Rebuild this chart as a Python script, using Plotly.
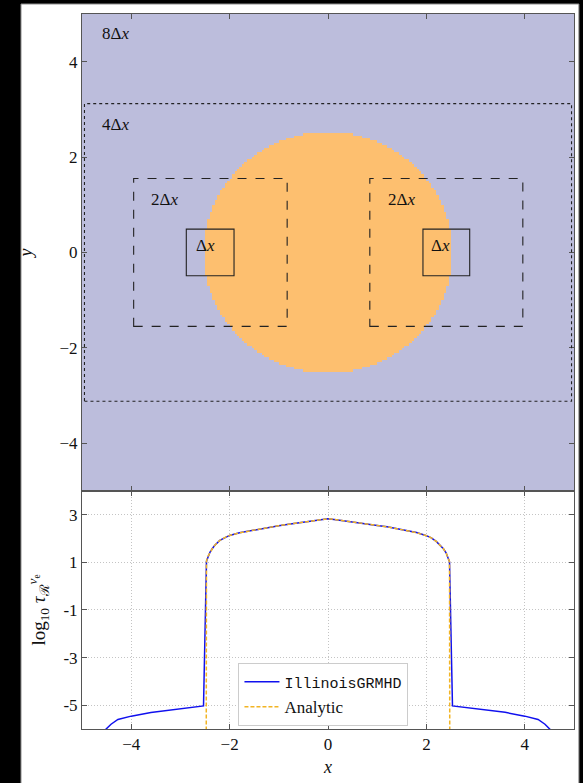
import numpy as np
import plotly.graph_objects as go

# ---------------- data ----------------
# sphere geometry for the top panel (density mask on a uniform grid)
sphere_radius = 2.5
grid_spacing = 0.05

# refinement-level boxes
box_x0 = [-4.95, -3.95, 0.85, -2.88, 1.93]
box_x1 = [4.95, -0.83, 3.96, -1.91, 2.88]
box_y0 = [-3.12, -1.55, -1.55, -0.49, -0.49]
box_y1 = [3.12, 1.55, 1.55, 0.49, 0.49]
box_dash = ["dot", "dash", "dash", "solid", "solid"]

# refinement-level labels
label_text = ["8Δ<i>x</i>", "4Δ<i>x</i>", "2Δ<i>x</i>", "2Δ<i>x</i>", "Δ<i>x</i>", "Δ<i>x</i>"]
label_x = [-4.63, -4.63, -3.63, 1.18, -2.72, 2.05]
label_y = [4.59, 2.68, 1.11, 1.11, 0.15, 0.15]

# optical depth profile inside the sphere
x_inner = [-2.47, -2.44, -2.40, -2.35, -2.30, -2.20, -2.10, -2.00, -1.80, -1.60,
           -1.40, -1.20, -1.00, -0.80, -0.60, -0.40, -0.20, 0.00,
           0.20, 0.40, 0.60, 0.80, 1.00, 1.20, 1.40, 1.60, 1.80, 2.00,
           2.10, 2.20, 2.30, 2.35, 2.40, 2.44, 2.47]
tau_inner = [1.05, 1.25, 1.42, 1.58, 1.72, 1.92, 2.04, 2.13, 2.24, 2.32,
             2.40, 2.48, 2.54, 2.60, 2.66, 2.71, 2.77, 2.83,
             2.78, 2.73, 2.67, 2.61, 2.55, 2.49, 2.42, 2.34, 2.25, 2.12,
             2.03, 1.88, 1.68, 1.56, 1.40, 1.22, 1.02]

# IllinoisGRMHD values outside the sphere
x_left = [-5.00, -4.80, -4.65, -4.51, -4.41, -4.27, -4.00, -3.60, -3.10, -2.90, -2.53]
tau_left = [-7.30, -6.70, -6.30, -6.00, -5.80, -5.60, -5.46, -5.31, -5.17, -5.13, -5.03]
x_right = [2.53, 2.90, 3.10, 3.60, 4.00, 4.27, 4.41, 4.51, 4.65, 4.80, 5.00]
tau_right = [-5.03, -5.12, -5.17, -5.30, -5.46, -5.60, -5.80, -6.00, -6.30, -6.70, -7.30]

# analytic solution: zero optical depth outside the sphere
x_edge = [-2.49, 2.49]
tau_edge = [-30.0, -30.0]

x_ticks = [-4, -2, 0, 2, 4]
x_ticktext = ["−4", "−2", "0", "2", "4"]
y_top_ticks = [4, 2, 0, -2, -4]
y_top_ticktext = ["4", "2", "0", "−2", "−4"]
y_bot_ticks = [3, 1, -1, -3, -5]
y_bot_ticktext = ["3", "1", "-1", "-3", "-5"]

# ---------------- figure ----------------
FONT = "Liberation Serif"
AX = "#555555"
purple = "#bcbddc"
orange = "#fdbf6f"

centers = np.arange(-5 + grid_spacing / 2, 5, grid_spacing)
gx, gy = np.meshgrid(centers, centers)
mask = (np.hypot(gx, gy) <= sphere_radius + grid_spacing / 2).astype(float)

fig = go.Figure()

fig.add_trace(go.Heatmap(
    x=centers, y=centers, z=mask, zmin=0, zmax=1, zsmooth=False,
    colorscale=[[0, purple], [1, orange]], showscale=False,
    hoverinfo="skip", xaxis="x", yaxis="y",
))

fig.add_trace(go.Scatter(
    x=x_left + x_inner + x_right, y=tau_left + tau_inner + tau_right,
    mode="lines", line=dict(color="#1010ee", width=1.5),
    name='<span style="font-family:Liberation Mono;font-size:15px">IllinoisGRMHD</span>',
    xaxis="x2", yaxis="y2",
))
fig.add_trace(go.Scatter(
    x=[x_edge[0]] + x_inner + [x_edge[1]], y=[tau_edge[0]] + tau_inner + [tau_edge[1]],
    mode="lines", line=dict(color="#f2b423", width=1.5, dash="4px,2px"),
    name="Analytic", xaxis="x2", yaxis="y2",
))

shapes = [
    dict(type="rect", xref="paper", yref="paper", x0=-0.124, x1=1.010,
         y0=-0.09, y1=1.014, fillcolor="white", line=dict(color="#888888", width=1),
         layer="below"),
]
for x0, x1, y0, y1, d in zip(box_x0, box_x1, box_y0, box_y1, box_dash):
    shapes.append(dict(type="rect", xref="x", yref="y", x0=x0, x1=x1, y0=y0, y1=y1,
                       line=dict(color="#222222", width=1.1, dash=d)))

annotations = [
    dict(x=lx, y=ly, xref="x", yref="y", text=t, showarrow=False,
         xanchor="left", yanchor="middle", font=dict(family=FONT, size=17, color="#111"))
    for t, lx, ly in zip(label_text, label_x, label_y)
]

axis_common = dict(
    showline=True, linecolor=AX, linewidth=1, mirror="ticks",
    ticks="inside", ticklen=5, tickcolor=AX, zeroline=False,
    tickfont=dict(family=FONT, size=17, color="#111"),
)

split = 0.333
fig.update_layout(
    width=583, height=783,
    margin=dict(l=82, r=9, t=14, b=54),
    paper_bgcolor="black", plot_bgcolor="white",
    font=dict(family=FONT, size=17, color="#111"),
    shapes=shapes, annotations=annotations,
    xaxis=dict(domain=[0, 1], anchor="y", range=[-5, 5], tickvals=x_ticks,
               showticklabels=False, showgrid=False, **axis_common),
    yaxis=dict(domain=[split, 1], anchor="x", range=[-5, 5], tickvals=y_top_ticks,
               ticktext=y_top_ticktext, showgrid=False,
               title=dict(text="<i>y</i>", standoff=22, font=dict(family=FONT, size=18)),
               **axis_common),
    xaxis2=dict(domain=[0, 1], anchor="y2", range=[-5, 5], tickvals=x_ticks,
                ticktext=x_ticktext, matches="x", showgrid=True,
                gridcolor="#c4c4c4", griddash="1px,2px", gridwidth=1,
                title=dict(text="<i>x</i>", standoff=6, font=dict(family=FONT, size=18)),
                **axis_common),
    yaxis2=dict(domain=[0, split], anchor="x2", range=[-6, 4], tickvals=y_bot_ticks,
                ticktext=y_bot_ticktext, showgrid=True,
                gridcolor="#c4c4c4", griddash="1px,2px", gridwidth=1,
                title=dict(text="log<sub>10</sub> <i>τ</i><sub>ℛ</sub><sup><i>ν</i><sub>e</sub></sup>",
                           standoff=12, font=dict(family=FONT, size=19)),
                **axis_common),
    showlegend=True,
    legend=dict(x=0.318, y=0.004, xanchor="left", yanchor="bottom",
                xref="paper", yref="paper",
                bgcolor="white", bordercolor="#cccccc", borderwidth=1,
                font=dict(family=FONT, size=17, color="#111"),
                tracegroupgap=0, itemwidth=35),
)

fig.write_html("out.html")
